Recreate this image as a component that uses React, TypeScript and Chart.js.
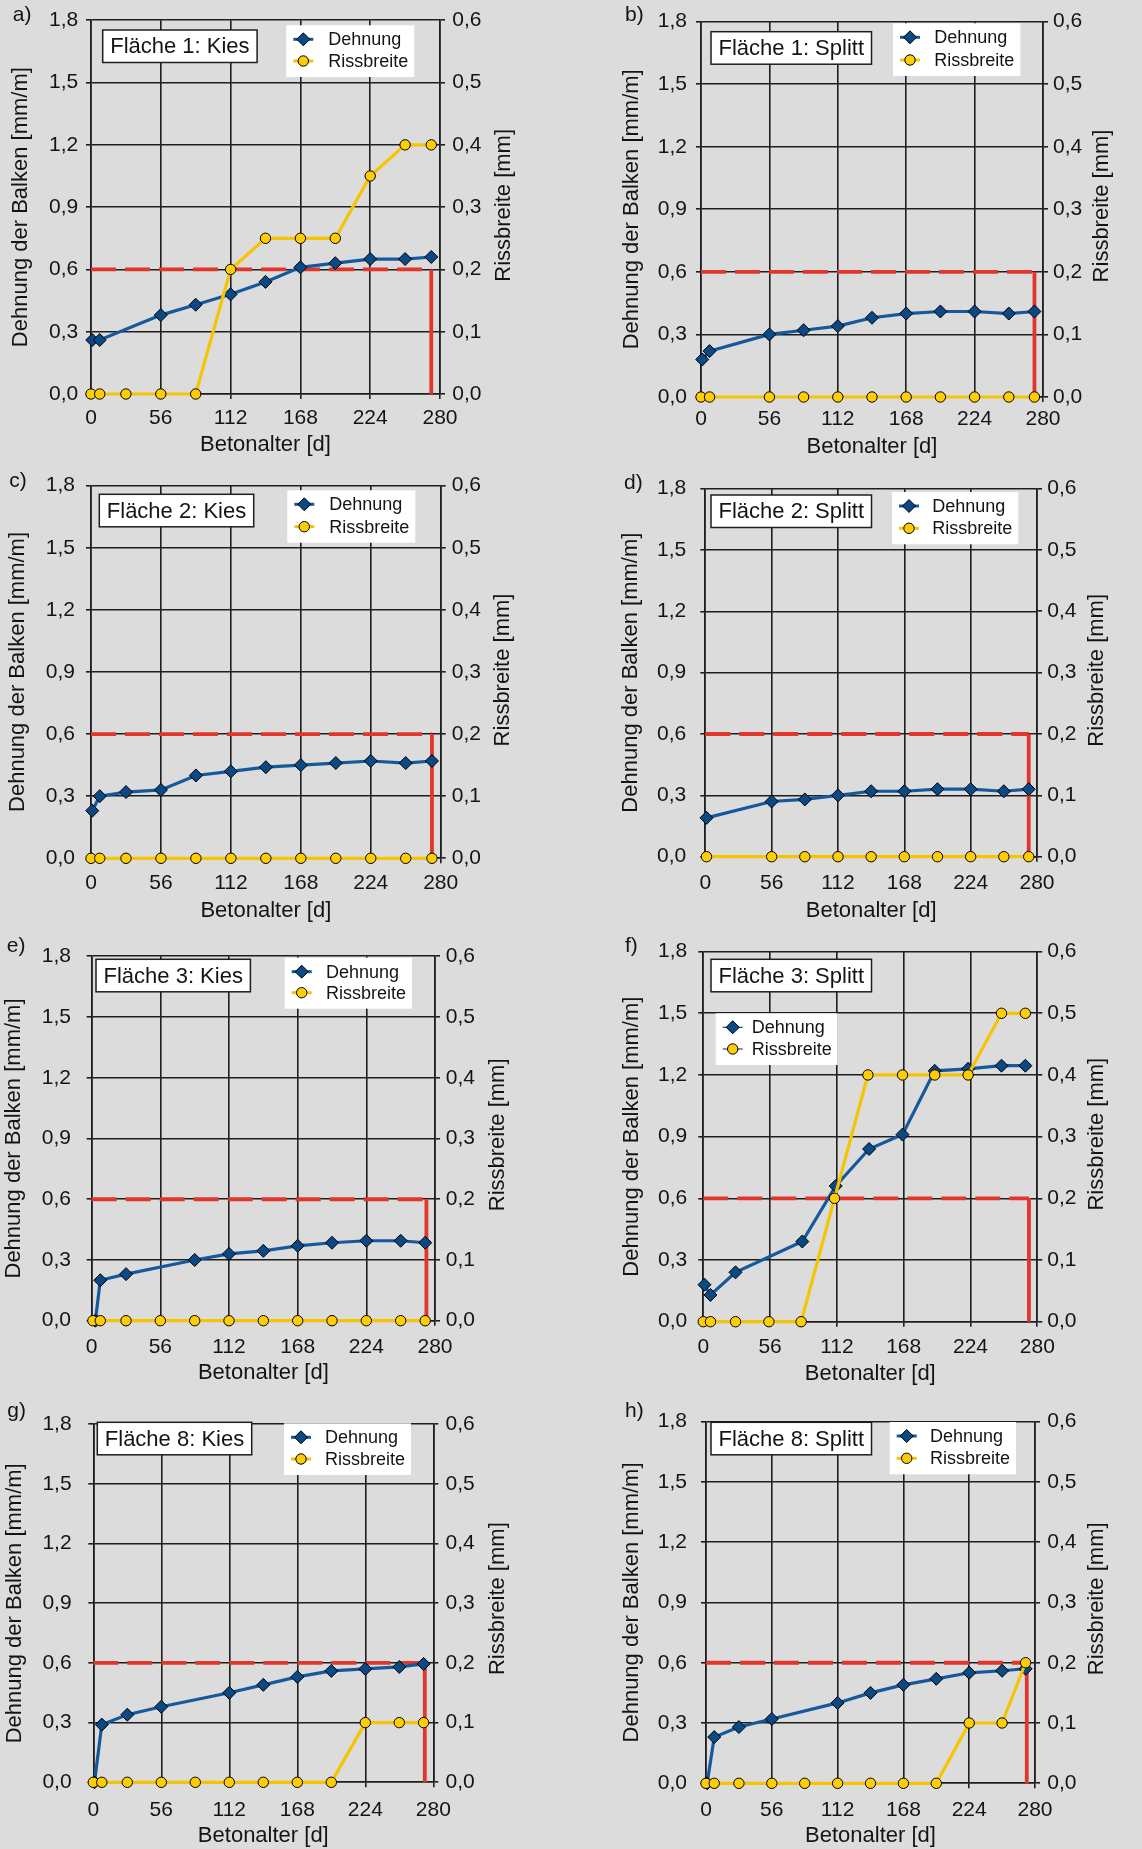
import React, { useEffect, useRef } from 'react';
import { Chart, registerables } from 'chart.js';

Chart.register(...registerables);

// ---------------- data ----------------
const xTicks = [0, 56, 112, 168, 224, 280];
const yTicks = [0, 0.3, 0.6, 0.9, 1.2, 1.5, 1.8];
const y1Ticks = [0, 0.1, 0.2, 0.3, 0.4, 0.5, 0.6];
const xTitle = 'Betonalter [d]';
const yTitle = 'Dehnung der Balken [mm/m]';
const y1Title = 'Rissbreite [mm]';
const seriesNames = ['Dehnung', 'Rissbreite'];

const limitAge = 273; // d
const limitDehnung = 0.6; // mm/m

const panelLetters = ['a)', 'b)', 'c)', 'd)', 'e)', 'f)', 'g)', 'h)'];
const panelTitles = [
  'Fläche 1: Kies', 'Fläche 1: Splitt',
  'Fläche 2: Kies', 'Fläche 2: Splitt',
  'Fläche 3: Kies', 'Fläche 3: Splitt',
  'Fläche 8: Kies', 'Fläche 8: Splitt',
];

const aDehnungX = [1, 7, 56, 84, 112, 140, 168, 196, 224, 252, 273];
const aDehnung = [0.26, 0.26, 0.38, 0.43, 0.48, 0.54, 0.61, 0.63, 0.65, 0.65, 0.66];
const aRissX = [0, 7, 28, 56, 84, 112, 140, 168, 196, 224, 252, 273];
const aRiss = [0, 0, 0, 0, 0, 0.2, 0.25, 0.25, 0.25, 0.35, 0.4, 0.4];

const bDehnungX = [1, 7, 56, 84, 112, 140, 168, 196, 224, 252, 273];
const bDehnung = [0.18, 0.22, 0.3, 0.32, 0.34, 0.38, 0.4, 0.41, 0.41, 0.4, 0.41];
const bRissX = [0, 7, 56, 84, 112, 140, 168, 196, 224, 252, 273];
const bRiss = [0, 0, 0, 0, 0, 0, 0, 0, 0, 0, 0];

const cDehnungX = [1, 7, 28, 56, 84, 112, 140, 168, 196, 224, 252, 273];
const cDehnung = [0.23, 0.3, 0.32, 0.33, 0.4, 0.42, 0.44, 0.45, 0.46, 0.47, 0.46, 0.47];
const cRissX = [0, 7, 28, 56, 84, 112, 140, 168, 196, 224, 252, 273];
const cRiss = [0, 0, 0, 0, 0, 0, 0, 0, 0, 0, 0, 0];

const dDehnungX = [1, 56, 84, 112, 140, 168, 196, 224, 252, 273];
const dDehnung = [0.19, 0.27, 0.28, 0.3, 0.32, 0.32, 0.33, 0.33, 0.32, 0.33];
const dRissX = [1, 56, 84, 112, 140, 168, 196, 224, 252, 273];
const dRiss = [0, 0, 0, 0, 0, 0, 0, 0, 0, 0];

const eDehnungX = [3, 7, 28, 84, 112, 140, 168, 196, 224, 252, 272];
const eDehnung = [0, 0.2, 0.23, 0.3, 0.33, 0.345, 0.37, 0.385, 0.395, 0.395, 0.385];
const eRissX = [1, 7, 28, 56, 84, 112, 140, 168, 196, 224, 252, 272];
const eRiss = [0, 0, 0, 0, 0, 0, 0, 0, 0, 0, 0, 0];

const fDehnungX = [1, 6, 27, 83, 111, 139, 167, 194, 222, 250, 270];
const fDehnung = [0.18, 0.13, 0.24, 0.39, 0.66, 0.84, 0.91, 1.22, 1.23, 1.245, 1.245];
const fRissX = [0, 6, 27, 55, 82, 110, 138, 167, 194, 222, 250, 270];
const fRiss = [0, 0, 0, 0, 0, 0.2, 0.4, 0.4, 0.4, 0.4, 0.5, 0.5];

const gDehnungX = [1, 7, 28, 56, 112, 140, 168, 196, 224, 252, 272];
const gDehnung = [0, 0.29, 0.34, 0.38, 0.45, 0.49, 0.53, 0.56, 0.57, 0.58, 0.595];
const gRissX = [0, 7, 28, 56, 84, 112, 140, 168, 196, 224, 252, 272];
const gRiss = [0, 0, 0, 0, 0, 0, 0, 0, 0, 0.1, 0.1, 0.1];

const hDehnungX = [1, 7, 28, 56, 112, 140, 168, 196, 224, 252, 272];
const hDehnung = [0, 0.23, 0.28, 0.32, 0.4, 0.45, 0.49, 0.52, 0.55, 0.56, 0.57];
const hRissX = [0, 7, 28, 56, 84, 112, 140, 168, 196, 224, 252, 272];
const hRiss = [0, 0, 0, 0, 0, 0, 0, 0, 0, 0.1, 0.1, 0.2];

const seriesList = [
  { dx: aDehnungX, dy: aDehnung, rx: aRissX, ry: aRiss },
  { dx: bDehnungX, dy: bDehnung, rx: bRissX, ry: bRiss },
  { dx: cDehnungX, dy: cDehnung, rx: cRissX, ry: cRiss },
  { dx: dDehnungX, dy: dDehnung, rx: dRissX, ry: dRiss },
  { dx: eDehnungX, dy: eDehnung, rx: eRissX, ry: eRiss },
  { dx: fDehnungX, dy: fDehnung, rx: fRissX, ry: fRiss },
  { dx: gDehnungX, dy: gDehnung, rx: gRissX, ry: gRiss },
  { dx: hDehnungX, dy: hDehnung, rx: hRissX, ry: hRiss },
];

// ---------------- layout (page pixel positions) ----------------
type Layout = {
  canvas: number[]; plot: number[]; letter: number[];
  leftTitle: number; rightTitle: number; xTitleMid: number;
  yGap: number; y1Gap: number; xLabOff: number;
  box: number[]; legend: number[]; thinLegend?: boolean;
};

const layouts: Layout[] = [
  { canvas: [0, 0, 590, 462], plot: [91, 16.7, 440, 394], letter: [12.7, 16.7], leftTitle: 23.3, rightTitle: 506, xTitleMid: 445, yGap: 13.7, y1Gap: 13.3, xLabOff: 24.7, box: [102.7, 30], legend: [303.3, 328.3, 39.3, 61] },
  { canvas: [590, 0, 552, 462], plot: [701, 15, 1043, 397], letter: [625, 16], leftTitle: 634, rightTitle: 1104, xTitleMid: 446.5, yGap: 15, y1Gap: 11, xLabOff: 22.5, box: [711, 31.7], legend: [910, 934.3, 37.3, 60] },
  { canvas: [0, 462, 590, 466], plot: [91, 481.7, 440.7, 858.3], letter: [9.3, 482], leftTitle: 20, rightTitle: 505, xTitleMid: 911, yGap: 17, y1Gap: 12, xLabOff: 25, box: [99.3, 494.3], legend: [304.3, 329.3, 504.3, 526.7] },
  { canvas: [590, 462, 552, 466], plot: [705.3, 484, 1037, 856.7], letter: [624, 484], leftTitle: 633, rightTitle: 1098.5, xTitleMid: 911, yGap: 20, y1Gap: 11.3, xLabOff: 26.7, box: [711, 495], legend: [909, 932.3, 506, 528.3] },
  { canvas: [0, 928, 590, 467], plot: [91.7, 949, 435, 1320.7], letter: [6.7, 947], leftTitle: 16.3, rightTitle: 500, xTitleMid: 1373, yGap: 21.7, y1Gap: 11.7, xLabOff: 26.5, box: [96, 959.3], legend: [301.7, 326, 971.7, 992.7] },
  { canvas: [590, 928, 552, 467], plot: [703.3, 946.7, 1037.3, 1321.7], letter: [625, 947], leftTitle: 634, rightTitle: 1099, xTitleMid: 1373.5, yGap: 17, y1Gap: 11, xLabOff: 25.8, box: [711, 959.3], legend: [732.7, 751.7, 1027.3, 1049], thinLegend: true },
  { canvas: [0, 1395, 590, 454], plot: [93.3, 1415, 433.3, 1782.3], letter: [7.3, 1412], leftTitle: 17, rightTitle: 500, xTitleMid: 1838.2, yGap: 22.7, y1Gap: 13.3, xLabOff: 27.7, box: [97.3, 1422.3], legend: [301, 325, 1437.3, 1459] },
  { canvas: [590, 1395, 552, 454], plot: [706, 1414.3, 1035, 1783.3], letter: [625, 1412], leftTitle: 634, rightTitle: 1099, xTitleMid: 1838.2, yGap: 20, y1Gap: 13.3, xLabOff: 27.4, box: [711, 1422.3], legend: [906.7, 930, 1436, 1458.3] },
];

// ---------------- styles ----------------
const FONT = "'Liberation Sans', Arial, Helvetica, sans-serif";
const BG = '#dcdcdc';
const TEXT = '#141414';
const GRID = '#1e1e1e';
const BLUE_LINE = '#15599c';
const BLUE_FILL = '#0b4985';
const YELLOW_LINE = '#f6c400';
const YELLOW_FILL = '#ffcd05';
const RED = '#e2352b';
const TICK_LEN = 5;
const TICK_FONT = 21;
const TITLE_FONT = 22;
const LEGEND_FONT = 18;
const DIAMOND_R = 6.5;
const CIRCLE_R = 5.2;

Chart.defaults.font.family = FONT;

function drawDiamond(ctx: CanvasRenderingContext2D, x: number, y: number, r: number) {
  ctx.beginPath();
  ctx.moveTo(x - r, y);
  ctx.lineTo(x, y - r);
  ctx.lineTo(x + r, y);
  ctx.lineTo(x, y + r);
  ctx.closePath();
  ctx.fillStyle = BLUE_FILL;
  ctx.fill();
  ctx.lineWidth = 1;
  ctx.strokeStyle = '#000';
  ctx.stroke();
}

function drawCircle(ctx: CanvasRenderingContext2D, x: number, y: number, r: number) {
  ctx.beginPath();
  ctx.arc(x, y, r, 0, Math.PI * 2);
  ctx.fillStyle = YELLOW_FILL;
  ctx.fill();
  ctx.lineWidth = 1;
  ctx.strokeStyle = '#000';
  ctx.stroke();
}

function Panel({ idx }: { idx: number }) {
  const ref = useRef<HTMLCanvasElement>(null);
  const L = layouts[idx];
  const [cx, cy, cw, ch] = L.canvas;

  useEffect(() => {
    const canvas = ref.current;
    if (!canvas) return;
    const s = seriesList[idx];
    const [pl, pt, pr, pb] = L.plot;
    const leftW = pl - cx;
    const rightW = cx + cw - pr;
    const bottomH = cy + ch - pb;
    const topPad = pt - cy;
    const labelHalf = (TICK_FONT * 1.2) / 2;
    const titleHalf = (TITLE_FONT * 1.2) / 2;

    const decor = {
      id: 'decor' + idx,
      beforeDatasetsDraw(chart: any) {
        const ctx: CanvasRenderingContext2D = chart.ctx;
        ctx.save();
        // title box
        ctx.font = `${TITLE_FONT}px ${FONT}`;
        const title = panelTitles[idx];
        const tw = ctx.measureText(title).width;
        const bx = L.box[0] - cx;
        const by = L.box[1] - cy;
        const bw = tw + 15;
        const bh = 32.5;
        ctx.fillStyle = '#ffffff';
        ctx.fillRect(bx, by, bw, bh);
        ctx.strokeStyle = GRID;
        ctx.lineWidth = 1.5;
        ctx.strokeRect(bx, by, bw, bh);
        ctx.fillStyle = TEXT;
        ctx.textAlign = 'left';
        ctx.textBaseline = 'middle';
        ctx.fillText(title, bx + 7.5, by + bh / 2 + 1);

        // legend
        const [mxA, txA, r1A, r2A] = L.legend;
        const mx = mxA - cx;
        const tx = txA - cx;
        const r1 = r1A - cy;
        const r2 = r2A - cy;
        ctx.font = `${LEGEND_FONT}px ${FONT}`;
        const lw = Math.max(ctx.measureText(seriesNames[0]).width, ctx.measureText(seriesNames[1]).width);
        ctx.fillStyle = '#ffffff';
        ctx.fillRect(mx - 17, r1 - 14, tx + lw + 6 - (mx - 17), r2 + 16 - (r1 - 14));
        const rows = [
          { y: r1, name: seriesNames[0], color: BLUE_LINE, kind: 'd' },
          { y: r2, name: seriesNames[1], color: YELLOW_LINE, kind: 'c' },
        ];
        rows.forEach((row) => {
          ctx.beginPath();
          ctx.moveTo(mx - 10, row.y);
          ctx.lineTo(mx + 10, row.y);
          ctx.strokeStyle = L.thinLegend ? GRID : row.color;
          ctx.lineWidth = L.thinLegend ? 1 : 3;
          ctx.stroke();
          if (row.kind === 'd') drawDiamond(ctx, mx, row.y, DIAMOND_R);
          else drawCircle(ctx, mx, row.y, CIRCLE_R);
          ctx.fillStyle = TEXT;
          ctx.textAlign = 'left';
          ctx.textBaseline = 'middle';
          ctx.font = `${LEGEND_FONT}px ${FONT}`;
          ctx.fillText(row.name, tx, row.y + 1);
        });
        ctx.restore();
      },
      afterDraw(chart: any) {
        const ctx: CanvasRenderingContext2D = chart.ctx;
        ctx.save();
        ctx.fillStyle = TEXT;
        // panel letter
        ctx.font = `${TICK_FONT}px ${FONT}`;
        ctx.textAlign = 'left';
        ctx.textBaseline = 'middle';
        ctx.fillText(panelLetters[idx], L.letter[0] - cx, L.letter[1] - cy - 1);
        // right axis title, rotated like the left one
        ctx.font = `${TITLE_FONT}px ${FONT}`;
        ctx.translate(L.rightTitle - 2 - cx, (pt + pb) / 2 - cy);
        ctx.rotate(-Math.PI / 2);
        ctx.textAlign = 'center';
        ctx.textBaseline = 'middle';
        ctx.fillText(y1Title, 0, 0);
        ctx.restore();
      },
    };

    const tickFont = { size: TICK_FONT, family: FONT };
    const titleFont = { size: TITLE_FONT, family: FONT };
    const fmt = (v: any) => Number(v).toFixed(1).replace('.', ',');

    const chart = new Chart(canvas, {
      type: 'line',
      data: {
        datasets: [
          {
            label: seriesNames[1],
            data: s.rx.map((x, i) => ({ x, y: s.ry[i] })),
            yAxisID: 'y1',
            order: 0,
            borderColor: YELLOW_LINE,
            borderWidth: 3.2,
            pointStyle: 'circle',
            pointRadius: CIRCLE_R,
            pointBackgroundColor: YELLOW_FILL,
            pointBorderColor: '#000',
            pointBorderWidth: 1,
            tension: 0,
            fill: false,
            clip: false,
          } as any,
          {
            label: seriesNames[0],
            data: s.dx.map((x, i) => ({ x, y: s.dy[i] })),
            yAxisID: 'y',
            order: 1,
            borderColor: BLUE_LINE,
            borderWidth: 3.2,
            pointStyle: 'rectRot',
            pointRadius: DIAMOND_R,
            pointBackgroundColor: BLUE_FILL,
            pointBorderColor: '#000',
            pointBorderWidth: 1,
            tension: 0,
            fill: false,
            clip: false,
          } as any,
          {
            label: 'Grenzwert Dehnung',
            data: [{ x: 0, y: limitDehnung }, { x: limitAge, y: limitDehnung }],
            yAxisID: 'y',
            order: 2,
            borderColor: RED,
            borderWidth: 3.8,
            borderDash: [25, 9],
            pointRadius: 0,
            tension: 0,
            fill: false,
            clip: false,
          } as any,
          {
            label: 'Grenzwert Alter',
            data: [{ x: limitAge, y: limitDehnung }, { x: limitAge, y: 0 }],
            yAxisID: 'y',
            order: 2,
            borderColor: RED,
            borderWidth: 3.8,
            pointRadius: 0,
            tension: 0,
            fill: false,
            clip: false,
          } as any,
        ],
      },
      options: {
        responsive: false,
        animation: false,
        devicePixelRatio: 1,
        events: [],
        layout: { padding: { top: topPad, left: 0, right: 0, bottom: 0 } },
        plugins: { legend: { display: false }, tooltip: { enabled: false } },
        scales: {
          x: {
            type: 'linear',
            position: 'bottom',
            min: 0,
            max: 280,
            afterBuildTicks: (sc: any) => { sc.ticks = xTicks.map((v) => ({ value: v })); },
            afterFit: (sc: any) => { sc.height = bottomH; },
            ticks: {
              font: tickFont,
              color: TEXT,
              padding: L.xLabOff - TICK_LEN - labelHalf,
              maxRotation: 0,
              autoSkip: false,
              callback: (v: any) => String(v),
            },
            grid: { color: GRID, lineWidth: 1.6, tickLength: TICK_LEN, tickColor: GRID, tickWidth: 1.6 },
            border: { display: true, color: GRID, width: 1.6 },
            title: {
              display: true,
              text: xTitle,
              font: titleFont,
              color: TEXT,
              padding: { top: 0, bottom: Math.max(0, cy + ch - L.xTitleMid - titleHalf) },
            },
          },
          y: {
            type: 'linear',
            position: 'left',
            min: 0,
            max: 1.8,
            afterBuildTicks: (sc: any) => { sc.ticks = yTicks.map((v) => ({ value: v })); },
            afterFit: (sc: any) => { sc.width = leftW; },
            ticks: { font: tickFont, color: TEXT, padding: L.yGap - TICK_LEN - 1, callback: fmt },
            grid: { color: GRID, lineWidth: 1.6, tickLength: TICK_LEN, tickColor: GRID, tickWidth: 1.6 },
            border: { display: true, color: GRID, width: 1.6 },
            title: {
              display: true,
              text: yTitle,
              font: titleFont,
              color: TEXT,
              padding: { top: Math.max(0, L.leftTitle - 2 - cx - titleHalf), bottom: 0 },
            },
          },
          y1: {
            type: 'linear',
            position: 'right',
            min: 0,
            max: 0.6,
            afterBuildTicks: (sc: any) => { sc.ticks = y1Ticks.map((v) => ({ value: v })); },
            afterFit: (sc: any) => { sc.width = rightW; },
            ticks: { font: tickFont, color: TEXT, padding: L.y1Gap - TICK_LEN - 1, callback: fmt },
            grid: { drawOnChartArea: false, color: GRID, lineWidth: 1.6, tickLength: TICK_LEN, tickColor: GRID, tickWidth: 1.6 },
            border: { display: true, color: GRID, width: 1.6 },
          },
        },
      } as any,
      plugins: [decor],
    });

    return () => { chart.destroy(); };
  }, [idx]);

  return (
    <canvas
      ref={ref}
      width={cw}
      height={ch}
      style={{ position: 'absolute', left: cx, top: cy, width: cw, height: ch, display: 'block' }}
    />
  );
}

export default function App() {
  return (
    <div
      style={{
        position: 'absolute',
        left: 0,
        top: 0,
        width: 1142,
        height: 1849,
        background: BG,
        overflow: 'hidden',
      }}
    >
      {layouts.map((_, i) => (
        <Panel key={i} idx={i} />
      ))}
    </div>
  );
}
